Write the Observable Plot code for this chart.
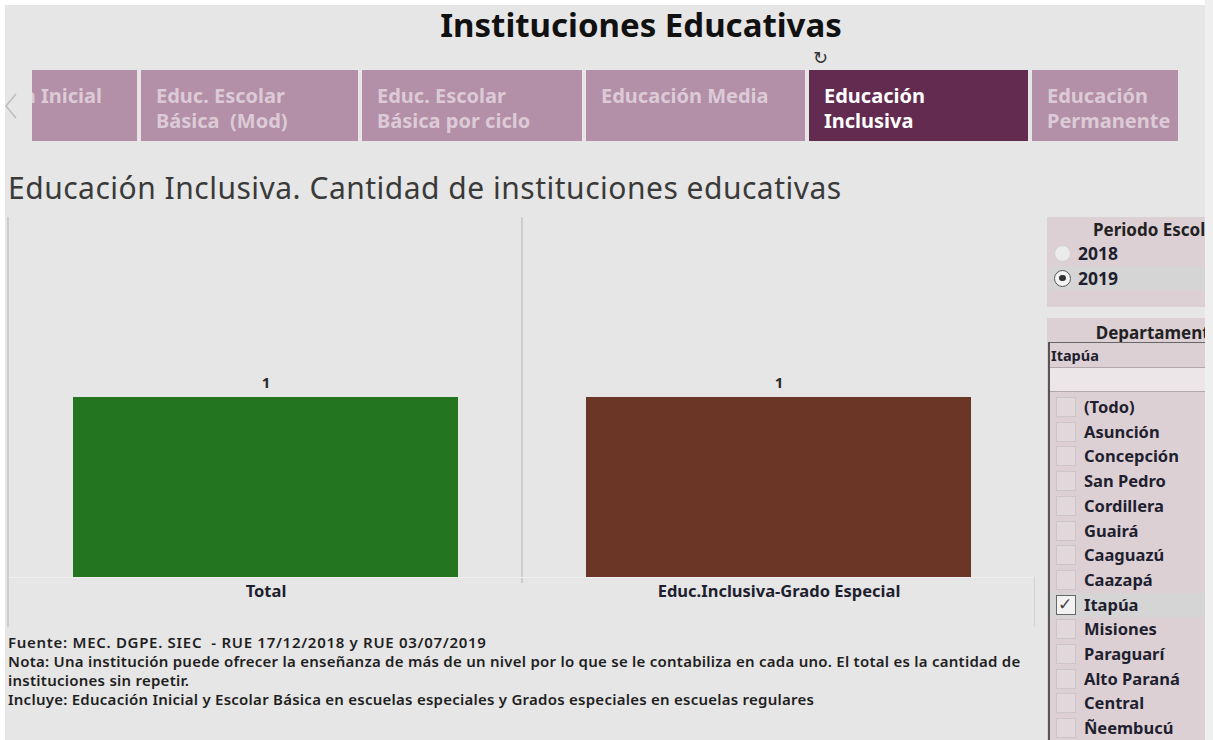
<!DOCTYPE html>
<html><head><meta charset="utf-8">
<script src="https://cdn.jsdelivr.net/npm/d3@7"></script>
<script src="https://cdn.jsdelivr.net/npm/@observablehq/plot@0.6"></script>
<style>
body{margin:0;background:#fff;font-family:"Noto Sans",sans-serif;}
#page{position:relative;width:1213px;height:740px;overflow:hidden;background:#fff;}
.abs{position:absolute;}
#bg{left:5px;top:5px;width:1200px;height:735px;background:#e6e6e6;}
#title{left:0;width:1282px;top:4px;text-align:center;font-weight:700;font-size:33px;color:#111;line-height:42px;}
#refresh{left:813px;top:47px;font-size:18px;color:#333;font-family:"DejaVu Sans";}
.tab{top:70px;height:71px;overflow:hidden;font-weight:700;font-size:20px;line-height:25px;}
.tab .t{position:absolute;top:13px;left:15px;white-space:pre;}
#subtitle{left:8px;top:169px;font-size:30px;letter-spacing:0.5px;color:#3a3a3a;white-space:nowrap;line-height:38px;}
#chart{left:8px;top:217px;}
#footer{left:8px;top:633px;font-size:15px;letter-spacing:0.25px;font-weight:600;color:#1f1f1f;line-height:19px;white-space:pre;}
.panel{left:1047px;width:222px;background:#ddd0d5;}
.ptitle{width:222px;text-align:center;font-weight:700;font-size:17px;color:#222;}
.opt{font-weight:700;font-size:16.5px;color:#1f1f2f;white-space:nowrap;}
#clipR{left:0;top:0;width:1205px;height:740px;overflow:hidden;}
#scroll{left:1205px;top:0;width:8px;height:740px;background:#efefef;}
</style></head><body>
<div id="page">
  <div id="bg" class="abs"></div>
  <div id="title" class="abs"></div>
  <div id="refresh" class="abs">↻</div>
  <svg class="abs" style="left:4px;top:92px" width="14" height="30"><polyline points="12,2 2,14 12,26" fill="none" stroke="#bdbdbd" stroke-width="1.5"/></svg>
  <div id="tabs"></div>
  <div id="subtitle" class="abs"></div>
  <div id="chart" class="abs"></div>
  <div id="footer" class="abs"></div>
  <div id="clipR" class="abs"></div>
  <div id="scroll" class="abs"></div>
</div>
<script>
// ---- data ----
const pageTitle = "Instituciones Educativas";
const tabLabels = ["Educación Inicial", "Educ. Escolar\nBásica  (Mod)", "Educ. Escolar\nBásica por ciclo", "Educación Media", "Educación\nInclusiva", "Educación\nPermanente"];
const activeTab = "Educación\nInclusiva";
const chartTitle = "Educación Inclusiva. Cantidad de instituciones educativas";
const categories = ["Total", "Educ.Inclusiva-Grado Especial"];
const values = [1, 1];
const barColors = ["#23761f", "#6b3626"];
const yDomain = [0, 2];
const footerLines = [
  "Fuente: MEC. DGPE. SIEC  - RUE 17/12/2018 y RUE 03/07/2019",
  "Nota: Una institución puede ofrecer la enseñanza de más de un nivel por lo que se le contabiliza en cada uno. El total es la cantidad de",
  "instituciones sin repetir.",
  "Incluye: Educación Inicial y Escolar Básica en escuelas especiales y Grados especiales en escuelas regulares"
];
const periodTitle = "Periodo Escolar";
const periods = ["2018", "2019"];
const selectedPeriod = "2019";
const deptTitle = "Departamento";
const departamentos = ["(Todo)", "Asunción", "Concepción", "San Pedro", "Cordillera", "Guairá", "Caaguazú", "Caazapá", "Itapúa", "Misiones", "Paraguarí", "Alto Paraná", "Central", "Ñeembucú"];
const selectedDept = "Itapúa";

// ---- header ----
document.getElementById("title").textContent = pageTitle;
document.getElementById("subtitle").textContent = chartTitle;
const footerEl = document.getElementById("footer");
footerLines.forEach((l, i) => {
  const d = document.createElement("div");
  d.textContent = l;
  if (i === 0) d.style.letterSpacing = "0.7px";
  footerEl.appendChild(d);
});

const tabX = [[32,137],[141,358],[362,582],[586,805],[809,1028],[1032,1178]];
const tabsEl = document.getElementById("tabs");
tabLabels.forEach((lab, i) => {
  const d = document.createElement("div");
  d.className = "tab abs";
  d.style.left = tabX[i][0] + "px";
  d.style.width = (tabX[i][1] - tabX[i][0]) + "px";
  const active = lab === activeTab;
  d.style.background = active ? "#632b50" : "#b38fa8";
  d.style.color = active ? "#ffffff" : "#dccbd7";
  const t = document.createElement("div");
  t.className = "t";
  t.textContent = lab;
  if (i === 0) { t.style.left = "auto"; t.style.right = "35px"; }
  d.appendChild(t);
  tabsEl.appendChild(d);
});

// ---- chart ----
const data = categories.map((c, i) => ({cat: c, value: values[i]}));
const chart = Plot.plot({
  width: 1027,
  height: 408,
  marginLeft: 0, marginRight: 0, marginTop: 0, marginBottom: 48,
  style: {background: "transparent", fontFamily: "Noto Sans", color: "#222"},
  x: {domain: categories, paddingInner: 0.25, paddingOuter: 0.125, axis: null},
  y: {domain: yDomain, axis: null},
  color: {domain: categories, range: barColors},
  marks: [
    Plot.barY(data, {x: "cat", y: "value", fill: "cat"}),
    Plot.text(data, {x: "cat", y: "value", text: d => String(d.value), dy: -14, fontWeight: "bold", fontSize: 15, fill: "#2a2a2a"}),
    Plot.text(data, {x: "cat", text: "cat", frameAnchor: "bottom", dy: 19, fontWeight: "bold", fontSize: 16.5, fill: "#1f1f2f"})
  ]
});
document.getElementById("chart").appendChild(chart);

// grid / border lines (decoration)
const page = document.getElementById("page");
function line(x, y, w, h, c) {
  const d = document.createElement("div");
  d.className = "abs";
  Object.assign(d.style, {left: x+"px", top: y+"px", width: w+"px", height: h+"px", background: c});
  page.appendChild(d);
}
line(7, 217, 2, 410, "#cdcdcd");
line(521, 217, 2, 366, "#cdcdcd");
line(9, 577, 1026, 1, "#efefef");
line(1034, 577, 1, 50, "#d2d2d2");

// ---- right panels ----
const clip = document.getElementById("clipR");
function el(cls, styles, text) {
  const d = document.createElement("div");
  d.className = "abs " + (cls || "");
  Object.assign(d.style, styles);
  if (text !== undefined) d.textContent = text;
  clip.appendChild(d);
  return d;
}
el("panel", {top: "217px", height: "90px"});
el("ptitle", {left: "1047px", top: "218px", lineHeight: "24px"}, periodTitle);
periods.forEach((p, i) => {
  const cy = 253 + i * 24.5;
  const sel = p === selectedPeriod;
  if (sel) el("", {left: "1049px", top: (cy - 12) + "px", width: "160px", height: "24px", background: "#d5d5d5"});
  el("", {left: "1054px", top: (cy - 8) + "px", width: "15px", height: "15px", borderRadius: "50%",
    border: sel ? "1.3px solid #555" : "1.3px solid #cfcfcf", background: sel ? "#f4f4f4" : "#ebebeb"});
  if (sel) el("", {left: "1059px", top: (cy - 3) + "px", width: "6.5px", height: "6.5px", borderRadius: "50%", background: "#333"});
  el("opt", {left: "1078px", top: (cy - 12) + "px", lineHeight: "24px", fontSize: "17.5px"}, p);
});

el("panel", {top: "318px", height: "430px"});
el("ptitle", {left: "1047px", top: "321px", lineHeight: "24px"}, deptTitle);
el("", {left: "1048px", top: "342px", width: "160px", height: "1px", background: "#666"});
el("opt", {left: "1051px", top: "344px", lineHeight: "22px", fontSize: "14.5px"}, selectedDept);
el("", {left: "1049px", top: "367px", width: "160px", height: "23px", background: "#ece6e8", borderTop: "1px solid #b0a8ab", borderBottom: "1px solid #b0a8ab"});
el("", {left: "1048px", top: "342px", width: "1.5px", height: "400px", background: "#555"});
departamentos.forEach((dpt, i) => {
  const cy = 407 + i * 24.7;
  const sel = dpt === selectedDept;
  if (sel) el("", {left: "1050px", top: (cy - 12) + "px", width: "160px", height: "24px", background: "#d5d5d5"});
  el("", {left: "1056px", top: (cy - 10) + "px", width: "18px", height: "18px",
    border: sel ? "1.5px solid #666" : "1.5px solid #cdc6c9", background: sel ? "#f2f2f2" : "#e2d8dc"});
  if (sel) el("", {left: "1058px", top: (cy - 12) + "px", fontSize: "17px", lineHeight: "22px", color: "#444", fontFamily: "DejaVu Sans"}, "✓");
  el("opt", {left: "1084px", top: (cy - 12) + "px", lineHeight: "24px"}, dpt);
});
</script>
</body></html>
